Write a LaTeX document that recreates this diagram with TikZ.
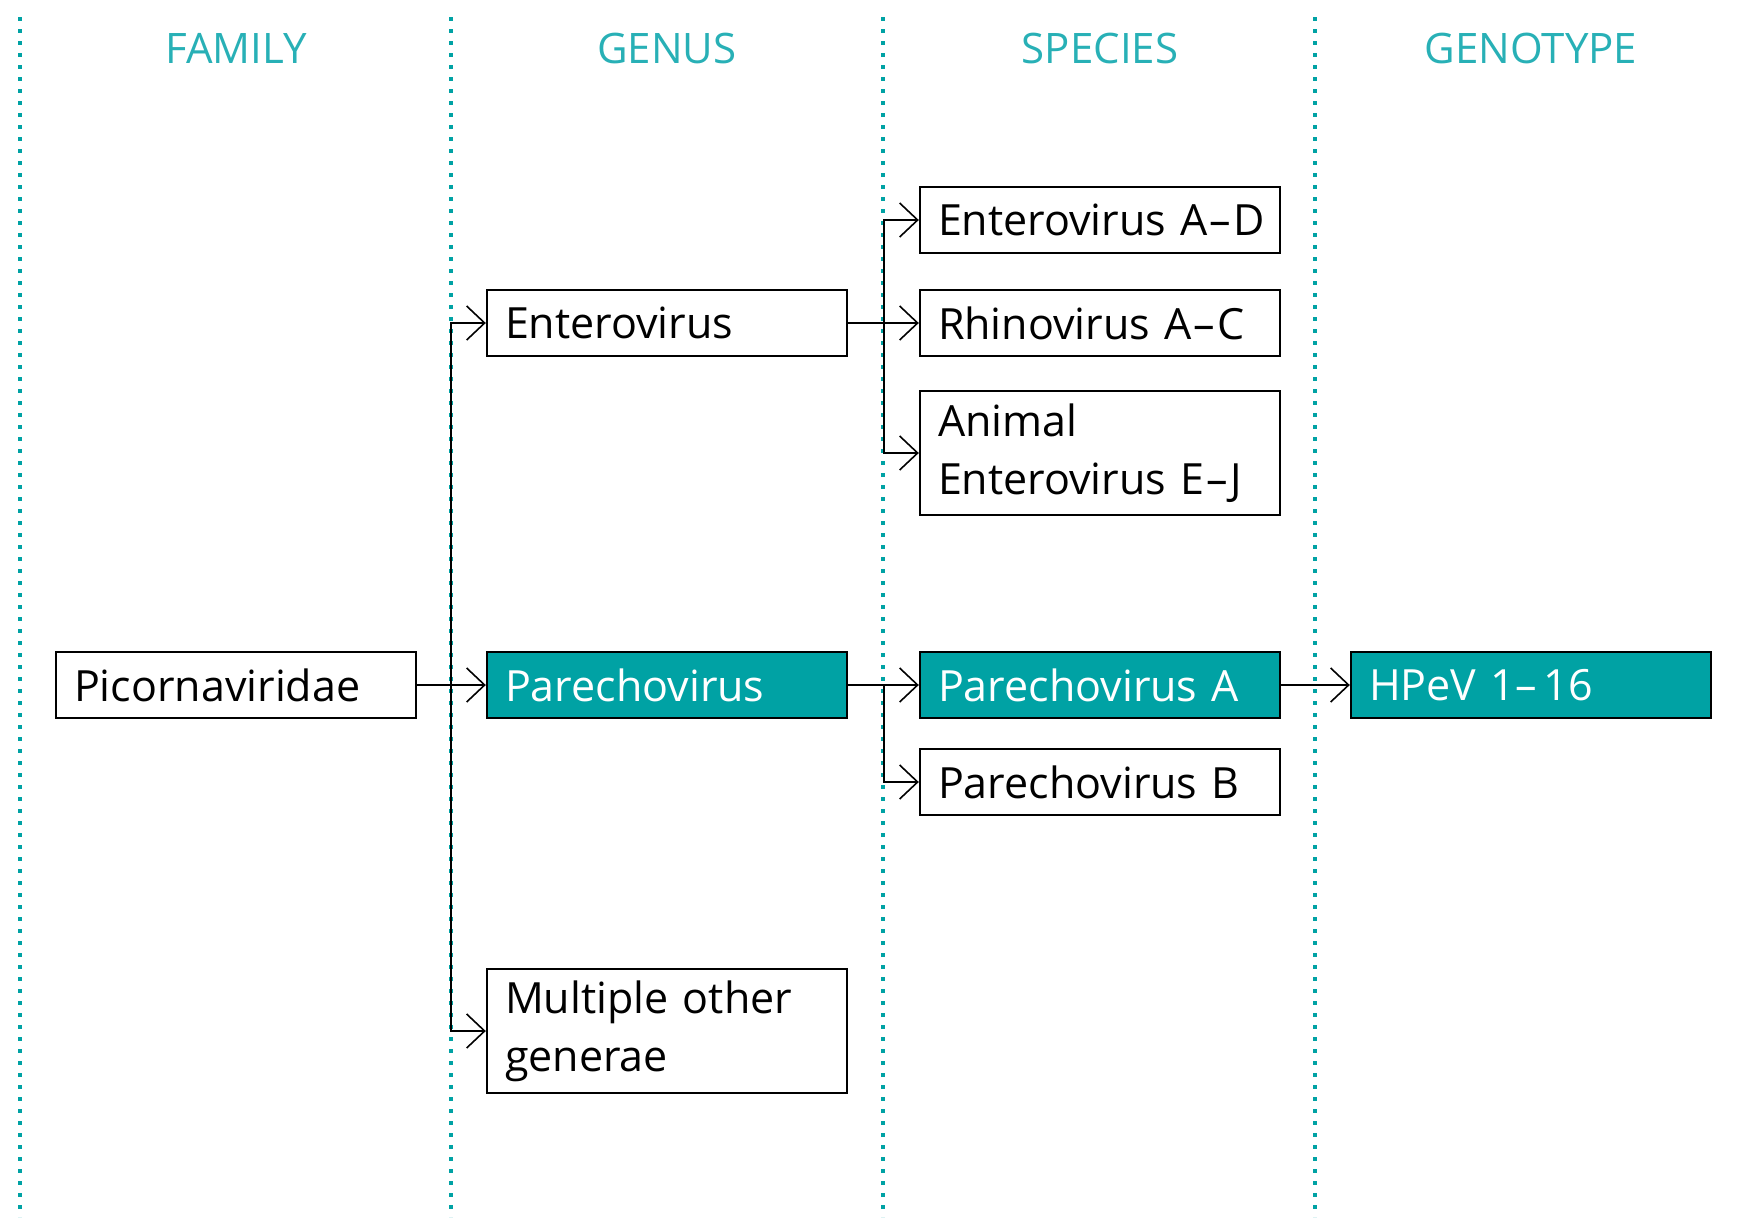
\documentclass[tikz,border=0pt]{standalone}
\usepackage{fontspec}
\setmainfont{Open Sans}
\usetikzlibrary{arrows.meta}

\definecolor{teal}{RGB}{0,162,164}
\definecolor{headteal}{RGB}{40,176,182}

\tikzset{
  box/.style={draw, line width=1.2pt, minimum width=180pt, minimum height=33pt,
    text width=162pt, inner xsep=9pt, inner ysep=0pt, align=left,
    font=\fontsize{21.5}{29}\selectfont},
  tallbox/.style={box, minimum height=62pt},
  hilite/.style={fill=teal, text=white},
  link/.style={line width=1pt, -{Straight Barb[length=9pt,width=17pt,line width=0.8pt]}},
  guide/.style={draw=teal, line width=2pt, dash pattern=on 2pt off 4pt},
  heading/.style={text=headteal, font=\fontsize{21}{26}\selectfont}
}

\begin{document}
\begin{tikzpicture}[x=0.5pt,y=-0.5pt]

\useasboundingbox (0,0) rectangle (1743,1217);

% Spalten
\foreach \x in {20,451,883,1315}
  \draw[guide] (\x,17) -- (\x,1217);

\node[heading] (hfam) at (236,48) {FAMILY};
\node[heading] (hgen) at (667,48) {GENUS};
\node[heading] (hspe) at (1100,48) {SPECIES};
\node[heading] (hgty) at (1531,48) {GENOTYPE};

% Familie
\node[box] (pic) at (236,685) {Picornaviridae};

% Gattungen
\node[box] (entg) at (667,323) {Enterovirus};
\node[box,hilite] (parg) at (667,685) {Parechovirus};
\node[tallbox] (othg) at (667,1031) {Multiple other\\generae};

% Arten
\node[box] (evad) at (1100,220) {\mbox{Enterovirus A\kern1pt–\kern1pt D}};
\node[box] (rhino) at (1100,323) {\mbox{Rhinovirus A\kern1pt–\kern1pt C}};
\node[tallbox] (animal) at (1100,453) {Animal\\\mbox{Enterovirus E\kern1pt–\kern1pt J}};
\node[box,hilite] (para) at (1100,685) {Parechovirus A};
\node[box] (parb) at (1100,782) {Parechovirus B};

% Genotyp
\node[box,hilite] (hpev) at (1531,685) {HPeV 1–\,16};

% Verbindungen
\draw[link] (pic) -- (parg);
\draw[link] (pic.east) -- ++(34,0) |- (entg.west);
\draw[link] (pic.east) -- ++(34,0) |- (othg.west);

\draw[link] (entg) -- (rhino);
\draw[link] (entg.east) -- ++(36,0) |- (evad.west);
\draw[link] (entg.east) -- ++(36,0) |- (animal.west);

\draw[link] (parg) -- (para);
\draw[link] (parg.east) -- ++(36,0) |- (parb.west);

\draw[link] (para) -- (hpev);

\end{tikzpicture}
\end{document}
